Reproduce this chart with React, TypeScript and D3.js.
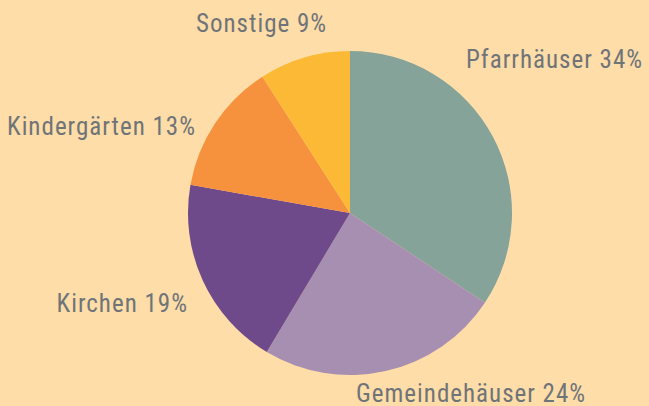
import React, { useEffect, useRef } from 'react';
import { select, pie, arc } from 'd3';

const CATEGORIES = ['Pfarrhäuser', 'Gemeindehäuser', 'Kirchen', 'Kindergärten', 'Sonstige'];
const SHARES = [34, 24, 19, 13, 9];
const COLORS = ['#86a39a', '#a78fb1', '#6f4a8a', '#f6923e', '#fcb936'];

// label placement (text anchor point, anchor side)
const LABEL_LAYOUT = [
  { x: 466, y: 68, anchor: 'start' },
  { x: 356, y: 402, anchor: 'start' },
  { x: 188, y: 312, anchor: 'end' },
  { x: 196, y: 135, anchor: 'end' },
  { x: 196, y: 32, anchor: 'start' },
];

const WIDTH = 649;
const HEIGHT = 406;
const CENTER = { x: 350, y: 213 };
const RADIUS = 162;

export default function App() {
  const svgRef = useRef<SVGSVGElement>(null);

  useEffect(() => {
    const svg = select(svgRef.current);
    svg.selectAll('*').remove();

    svg.append('rect').attr('width', WIDTH).attr('height', HEIGHT).attr('fill', '#fedda8');

    const data = CATEGORIES.map((name, i) => ({ name, value: SHARES[i], color: COLORS[i] }));
    const arcs = pie<any>().sort(null).value((d) => d.value)(data);
    const arcGen = arc<any>().innerRadius(0).outerRadius(RADIUS);

    const g = svg.append('g').attr('transform', `translate(${CENTER.x},${CENTER.y})`);
    g.selectAll('path')
      .data(arcs)
      .enter()
      .append('path')
      .attr('d', arcGen)
      .attr('fill', (d) => d.data.color);

    svg
      .selectAll('text.label')
      .data(data)
      .enter()
      .append('text')
      .attr('class', 'label')
      .attr('x', (_, i) => LABEL_LAYOUT[i].x)
      .attr('y', (_, i) => LABEL_LAYOUT[i].y)
      .attr('text-anchor', (_, i) => LABEL_LAYOUT[i].anchor)
      .style('font-family', '"Roboto Condensed", Roboto, sans-serif')
      .style('font-size', '25px')
      .style('letter-spacing', '1px')
      .style('fill', '#6f7479')
      .text((d) => `${d.name} ${d.value}%`);
  }, []);

  return (
    <svg
      ref={svgRef}
      width={WIDTH}
      height={HEIGHT}
      style={{ position: 'absolute', left: 0, top: 0, display: 'block' }}
    />
  );
}
